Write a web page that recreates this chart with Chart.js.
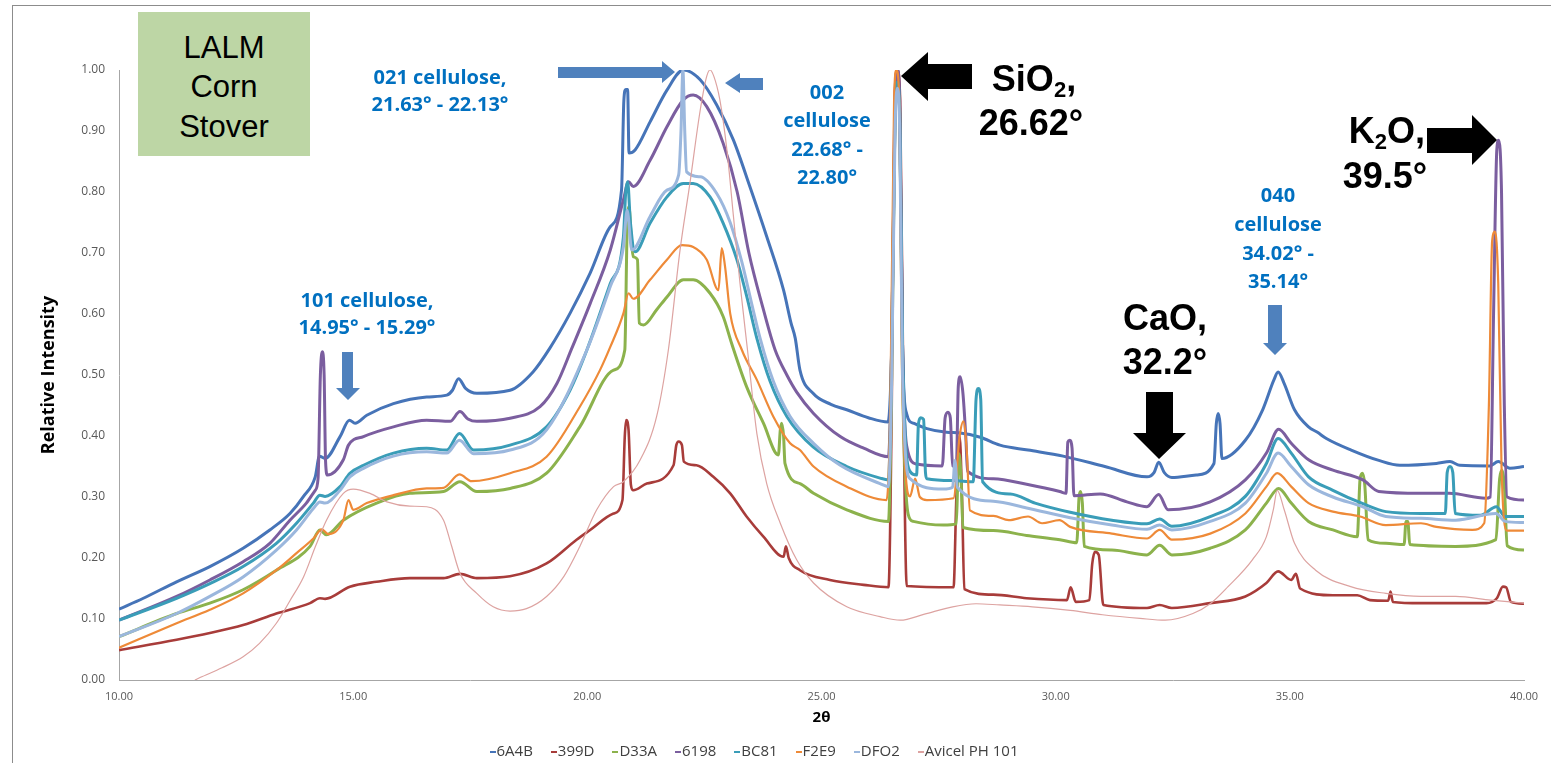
<!DOCTYPE html>
<html>
<head>
<meta charset="utf-8">
<script src="https://cdn.jsdelivr.net/npm/chart.js@4.4.1/dist/chart.umd.min.js"></script>
<style>
html,body{margin:0;padding:0;background:#fff;width:1551px;height:763px;overflow:hidden;}
#wrap{position:relative;width:1551px;height:763px;}
#c{position:absolute;left:0;top:0;}
#frame{position:absolute;left:12px;top:5px;width:1600px;height:800px;border-left:1px solid #8c8c8c;border-top:1px solid #8c8c8c;}
svg{position:absolute;left:0;top:0;}
.t{position:absolute;white-space:nowrap;transform:translate(-50%,-50%);}
.blue{color:#0070C0;font-family:"Open Sans",sans-serif;font-weight:700;font-size:20px;line-height:1;}
.blk{color:#000;font-family:"Liberation Sans",Arial,sans-serif;font-weight:700;font-size:36px;line-height:1;}
.blk sub{font-size:22px;vertical-align:-6px;line-height:0;}
.lalm{color:#000;font-family:"Liberation Sans",Arial,sans-serif;font-size:31px;line-height:1;}
#box{position:absolute;left:138px;top:12px;width:172px;height:144px;background:#BDD6A5;}
#legend{position:absolute;left:0;width:1508px;top:740px;text-align:center;font-family:"Open Sans",sans-serif;font-size:15px;color:#404040;white-space:nowrap;}
#legend span.item{margin:0 9px;}
#legend span.dash{display:inline-block;width:6px;height:2px;vertical-align:middle;margin-right:1px;}
</style>
</head>
<body>
<div id="wrap">
<div id="frame"></div>
<canvas id="c" width="1551" height="763"></canvas>
<svg width="1551" height="763" viewBox="0 0 1551 763">
  <polygon points="558,67 662,67 662,61 675,72 662,83 662,78 558,78" fill="#4F81BD"/>
  <polygon points="725,83 740,73 740,78 763,78 763,90 740,90 740,93" fill="#4F81BD"/>
  <polygon points="901,76 928,52 928,64 972,64 972,89 928,89 928,101" fill="#000"/>
  <polygon points="1427,128 1472,128 1472,115 1497,140 1472,165 1472,153 1427,153" fill="#000"/>
  <polygon points="1146,392 1173,392 1173,433 1186,433 1159,459 1133,433 1146,433" fill="#000"/>
  <polygon points="1268,305 1282,305 1282,343 1287,343 1275,355 1263,343 1268,343" fill="#4F81BD"/>
  <polygon points="342,352 353,352 353,388 360,388 348,400 336,388 342,388" fill="#4F81BD"/>
</svg>
<div id="box"></div>
<div class="t lalm" style="left:224px;top:47px;">LALM</div>
<div class="t lalm" style="left:224px;top:86px;">Corn</div>
<div class="t lalm" style="left:224px;top:126px;">Stover</div>

<div class="t blue" style="left:440px;top:77px;">021 cellulose,</div>
<div class="t blue" style="left:440px;top:104px;">21.63° - 22.13°</div>

<div class="t blue" style="left:827px;top:92px;">002</div>
<div class="t blue" style="left:827px;top:120px;">cellulose</div>
<div class="t blue" style="left:827px;top:149px;">22.68° -</div>
<div class="t blue" style="left:827px;top:177px;">22.80°</div>

<div class="t blue" style="left:1278px;top:195px;">040</div>
<div class="t blue" style="left:1278px;top:224px;">cellulose</div>
<div class="t blue" style="left:1278px;top:253px;">34.02° -</div>
<div class="t blue" style="left:1278px;top:281px;">35.14°</div>

<div class="t blue" style="left:367px;top:300px;">101 cellulose,</div>
<div class="t blue" style="left:367px;top:327px;">14.95° - 15.29°</div>

<div class="t blk" style="left:1034px;top:79px;">SiO<sub>2</sub>,</div>
<div class="t blk" style="left:1031px;top:123px;">26.62°</div>
<div class="t blk" style="left:1165px;top:318px;">CaO,</div>
<div class="t blk" style="left:1165px;top:362px;">32.2°</div>
<div class="t blk" style="left:1387px;top:131px;">K<sub>2</sub>O,</div>
<div class="t blk" style="left:1385px;top:176px;">39.5°</div>

<div id="legend"></div>
</div>
<script>
// ---------------- DATA ----------------
const SERIES = ['6A4B','399D','D33A','6198','BC81','F2E9','DFO2','Avicel PH 101'];
const COLORS = ['#4674B8','#A83C3A','#8CB24C','#7B5E9F','#3A9DB8','#EE8A38','#9BB7DD','#DDA3A1'];

const X_TICKS = [10,15,20,25,30,35,40];
const Y_TICKS = [0,0.1,0.2,0.3,0.4,0.5,0.6,0.7,0.8,0.9,1.0];

const d6A4B = [[10.0,0.116],[10.52,0.134],[11.23,0.161],[11.94,0.186],[12.65,0.216],[13.22,0.246],[13.65,0.273],[13.94,0.301],[14.19,0.333],[14.28,0.367],[14.40,0.363],[14.72,0.399],[14.92,0.426],[15.04,0.421],[15.29,0.434],[15.86,0.453],[16.57,0.464],[17.0,0.467],[17.12,0.475],[17.25,0.494],[17.40,0.478],[17.64,0.470],[18.35,0.475],[18.84,0.505],[19.2,0.544],[19.63,0.601],[20.06,0.667],[20.49,0.743],[20.73,0.803],[20.78,0.95],[20.82,0.968],[20.86,0.968],[20.89,0.864],[21.02,0.869],[21.34,0.915],[21.70,0.967],[22.05,1.0],[22.41,0.984],[22.76,0.943],[23.12,0.885],[23.47,0.809],[23.83,0.727],[24.19,0.639],[24.35,0.585],[24.44,0.56],[24.54,0.508],[24.82,0.47],[25.2,0.452],[25.54,0.443],[26.0,0.43],[26.42,0.423],[26.50,0.55],[26.57,0.93],[26.62,0.99],[26.67,0.93],[26.73,0.55],[26.82,0.436],[26.96,0.421],[27.25,0.412],[27.67,0.406],[27.96,0.405],[28.39,0.398],[28.81,0.385],[29.41,0.377],[30.16,0.367],[31.05,0.35],[31.95,0.333],[32.10,0.34],[32.2,0.357],[32.32,0.34],[32.48,0.332],[33.0,0.336],[33.38,0.355],[33.43,0.42],[33.47,0.437],[33.51,0.42],[33.55,0.363],[34.05,0.393],[34.42,0.443],[34.66,0.492],[34.75,0.505],[34.88,0.486],[35.1,0.443],[35.4,0.415],[35.59,0.406],[35.78,0.396],[36.31,0.377],[36.9,0.36],[37.35,0.352],[38.13,0.355],[38.42,0.358],[38.63,0.352],[39.27,0.351],[39.45,0.358],[39.7,0.347],[40.0,0.35]];

const d399D = [[10.0,0.049],[11.23,0.066],[11.94,0.077],[12.65,0.09],[13.36,0.109],[14.08,0.126],[14.29,0.134],[14.40,0.133],[14.93,0.153],[15.5,0.161],[16.21,0.167],[16.93,0.167],[17.28,0.174],[17.64,0.167],[18.35,0.17],[19.13,0.191],[19.77,0.23],[20.06,0.246],[20.56,0.273],[20.75,0.295],[20.80,0.40],[20.83,0.426],[20.88,0.41],[20.93,0.32],[20.98,0.311],[21.27,0.322],[21.84,0.352],[21.9,0.385],[21.95,0.391],[22.02,0.385],[22.06,0.358],[22.33,0.352],[22.69,0.333],[23.05,0.306],[23.4,0.268],[23.76,0.235],[24.19,0.202],[24.24,0.219],[24.3,0.2],[24.54,0.18],[25.18,0.164],[25.9,0.156],[26.43,0.152],[26.50,0.45],[26.56,0.95],[26.62,1.0],[26.68,0.95],[26.75,0.45],[26.82,0.154],[27.82,0.152],[27.88,0.30],[27.95,0.40],[28.0,0.30],[28.05,0.149],[28.67,0.14],[29.38,0.134],[30.24,0.131],[30.32,0.152],[30.43,0.128],[30.72,0.131],[30.78,0.19],[30.84,0.21],[30.92,0.205],[31.0,0.13],[31.02,0.123],[31.95,0.118],[32.22,0.123],[32.48,0.118],[33.3,0.126],[34.05,0.137],[34.5,0.159],[34.75,0.178],[35.03,0.164],[35.13,0.174],[35.22,0.15],[35.92,0.139],[36.44,0.139],[36.71,0.131],[37.1,0.13],[37.15,0.145],[37.2,0.128],[37.8,0.126],[38.54,0.126],[39.2,0.126],[39.42,0.134],[39.55,0.153],[39.62,0.152],[39.72,0.128],[40.0,0.125]];

const dD33A = [[10.0,0.071],[11.23,0.109],[11.94,0.126],[12.65,0.148],[13.36,0.18],[14.08,0.219],[14.29,0.246],[14.43,0.238],[14.79,0.262],[15.5,0.29],[16.21,0.306],[16.93,0.309],[17.28,0.325],[17.64,0.309],[18.35,0.314],[19.13,0.339],[19.84,0.415],[20.56,0.508],[20.8,0.541],[20.85,0.74],[20.89,0.776],[20.94,0.72],[20.98,0.694],[21.07,0.689],[21.11,0.585],[21.2,0.582],[21.48,0.607],[21.7,0.628],[22.05,0.656],[22.26,0.656],[22.62,0.634],[22.9,0.596],[23.08,0.552],[23.4,0.481],[23.76,0.421],[24.08,0.369],[24.12,0.41],[24.15,0.421],[24.19,0.40],[24.22,0.355],[24.54,0.322],[24.83,0.306],[25.54,0.279],[26.43,0.26],[26.50,0.5],[26.57,0.93],[26.62,0.98],[26.67,0.93],[26.73,0.5],[26.85,0.272],[26.96,0.26],[27.6,0.254],[27.88,0.256],[27.92,0.36],[27.94,0.371],[27.98,0.33],[28.02,0.25],[28.67,0.245],[29.38,0.237],[30.09,0.23],[30.45,0.225],[30.50,0.30],[30.53,0.309],[30.57,0.29],[30.61,0.219],[31.2,0.213],[31.95,0.205],[32.22,0.221],[32.48,0.205],[33.3,0.216],[34.05,0.246],[34.5,0.29],[34.76,0.314],[35.03,0.29],[35.4,0.26],[35.92,0.246],[36.44,0.235],[36.50,0.33],[36.55,0.339],[36.60,0.32],[36.67,0.23],[37.05,0.224],[37.44,0.222],[37.48,0.26],[37.52,0.26],[37.56,0.222],[38.54,0.219],[39.4,0.23],[39.48,0.33],[39.53,0.344],[39.58,0.32],[39.64,0.22],[40.0,0.213]];

const d6198 = [[10.0,0.098],[11.23,0.137],[11.94,0.164],[12.65,0.194],[13.22,0.224],[13.65,0.262],[14.0,0.29],[14.19,0.311],[14.25,0.33],[14.30,0.50],[14.34,0.538],[14.38,0.50],[14.41,0.36],[14.45,0.336],[14.79,0.361],[14.90,0.385],[15.22,0.399],[15.86,0.415],[16.57,0.426],[17.07,0.424],[17.28,0.44],[17.45,0.428],[17.64,0.424],[18.35,0.429],[18.99,0.448],[19.35,0.486],[19.67,0.544],[20.06,0.617],[20.49,0.705],[20.77,0.787],[20.88,0.817],[20.98,0.809],[21.34,0.852],[21.7,0.907],[22.05,0.951],[22.26,0.959],[22.55,0.94],[22.9,0.88],[23.2,0.80],[23.45,0.70],[23.75,0.61],[24.01,0.541],[24.26,0.500],[24.47,0.472],[24.83,0.437],[25.4,0.399],[25.9,0.38],[26.43,0.366],[26.50,0.55],[26.57,0.95],[26.62,1.0],[26.67,0.95],[26.73,0.55],[26.82,0.383],[27.03,0.354],[27.58,0.351],[27.64,0.43],[27.70,0.439],[27.75,0.43],[27.80,0.351],[27.88,0.35],[27.92,0.48],[27.96,0.497],[28.02,0.47],[28.08,0.40],[28.12,0.342],[28.67,0.33],[29.38,0.321],[30.09,0.309],[30.22,0.306],[30.26,0.39],[30.30,0.393],[30.35,0.38],[30.39,0.302],[30.95,0.305],[31.52,0.292],[31.95,0.284],[32.2,0.304],[32.4,0.279],[33.3,0.292],[34.05,0.328],[34.5,0.372],[34.76,0.411],[35.03,0.388],[35.4,0.361],[35.92,0.344],[36.56,0.328],[36.9,0.309],[37.8,0.306],[38.4,0.306],[39.18,0.298],[39.28,0.30],[39.35,0.60],[39.42,0.87],[39.46,0.885],[39.52,0.80],[39.58,0.45],[39.64,0.30],[40.0,0.295]];

const dBC81 = [[10.0,0.098],[11.23,0.134],[11.94,0.158],[12.65,0.186],[13.36,0.224],[13.79,0.257],[14.15,0.29],[14.29,0.303],[14.40,0.301],[14.72,0.317],[14.93,0.339],[15.22,0.352],[15.86,0.372],[16.57,0.38],[17.0,0.377],[17.27,0.404],[17.57,0.377],[18.35,0.385],[19.13,0.415],[19.63,0.475],[19.99,0.541],[20.49,0.65],[20.77,0.726],[20.82,0.80],[20.86,0.817],[20.92,0.75],[21.02,0.702],[21.34,0.749],[21.7,0.792],[22.05,0.814],[22.26,0.814],[22.62,0.792],[22.9,0.749],[23.19,0.690],[23.4,0.630],[23.62,0.560],[23.9,0.490],[24.26,0.432],[24.82,0.382],[25.54,0.35],[26.25,0.331],[26.43,0.328],[26.50,0.55],[26.57,0.93],[26.62,0.98],[26.67,0.93],[26.73,0.55],[26.89,0.342],[27.03,0.336],[27.07,0.42],[27.12,0.43],[27.18,0.427],[27.22,0.34],[27.25,0.33],[27.82,0.327],[28.24,0.325],[28.30,0.46],[28.35,0.478],[28.40,0.46],[28.44,0.325],[29.03,0.305],[29.56,0.29],[30.31,0.275],[31.2,0.262],[31.95,0.256],[32.22,0.264],[32.48,0.252],[33.3,0.268],[34.05,0.301],[34.5,0.355],[34.75,0.396],[35.03,0.372],[35.4,0.333],[35.92,0.311],[36.56,0.289],[37.05,0.276],[37.8,0.273],[38.32,0.273],[38.36,0.34],[38.42,0.35],[38.48,0.34],[38.53,0.273],[39.07,0.27],[39.41,0.284],[39.6,0.268],[40.0,0.268]];

const dF2E9 = [[10.0,0.053],[11.23,0.093],[11.94,0.115],[12.65,0.142],[13.36,0.18],[13.79,0.208],[14.15,0.232],[14.33,0.247],[14.47,0.239],[14.79,0.262],[14.90,0.295],[15.0,0.279],[15.29,0.29],[15.86,0.303],[16.57,0.314],[16.93,0.315],[17.27,0.337],[17.53,0.326],[18.35,0.339],[19.13,0.366],[19.84,0.448],[20.27,0.508],[20.49,0.546],[20.77,0.601],[20.88,0.634],[20.98,0.625],[21.34,0.656],[21.7,0.689],[22.02,0.713],[22.26,0.71],[22.55,0.689],[22.8,0.639],[22.87,0.708],[22.94,0.678],[23.05,0.601],[23.3,0.541],[23.62,0.492],[23.97,0.432],[24.33,0.388],[24.54,0.377],[24.83,0.35],[25.54,0.317],[26.39,0.295],[26.47,0.45],[26.55,0.95],[26.60,1.0],[26.66,0.95],[26.72,0.5],[26.89,0.301],[27.0,0.33],[27.1,0.3],[27.25,0.295],[27.82,0.298],[27.95,0.40],[28.03,0.424],[28.1,0.377],[28.17,0.278],[28.67,0.269],[29.0,0.262],[29.41,0.268],[29.71,0.257],[30.08,0.262],[30.31,0.251],[31.2,0.24],[31.95,0.232],[32.22,0.246],[32.48,0.23],[33.3,0.24],[34.05,0.273],[34.5,0.317],[34.73,0.339],[35.03,0.317],[35.4,0.29],[35.92,0.276],[36.5,0.268],[37.05,0.254],[37.8,0.257],[38.13,0.251],[38.9,0.246],[39.15,0.257],[39.25,0.45],[39.32,0.72],[39.38,0.735],[39.45,0.65],[39.52,0.35],[39.63,0.245],[40.0,0.245]];

const dDFO2 = [[10.0,0.071],[11.23,0.109],[11.94,0.137],[12.65,0.169],[13.36,0.213],[13.79,0.246],[14.15,0.281],[14.29,0.292],[14.40,0.29],[14.72,0.311],[14.93,0.333],[15.22,0.347],[15.86,0.367],[16.57,0.374],[17.0,0.372],[17.27,0.393],[17.57,0.371],[18.35,0.377],[19.13,0.41],[19.99,0.541],[20.49,0.645],[20.77,0.71],[20.85,0.77],[20.95,0.705],[21.34,0.76],[21.7,0.803],[21.95,0.828],[22.0,0.9],[22.04,1.0],[22.08,0.9],[22.12,0.833],[22.41,0.825],[22.76,0.798],[23.05,0.75],[23.3,0.685],[23.5,0.620],[23.69,0.560],[23.97,0.490],[24.33,0.432],[24.83,0.388],[25.4,0.352],[26.25,0.322],[26.43,0.317],[26.50,0.5],[26.57,0.9],[26.62,0.97],[26.67,0.9],[26.73,0.5],[26.89,0.33],[27.6,0.313],[27.80,0.316],[27.85,0.36],[27.90,0.316],[28.67,0.293],[29.38,0.282],[30.31,0.266],[31.2,0.254],[31.95,0.247],[32.22,0.254],[32.48,0.246],[33.3,0.26],[34.05,0.29],[34.5,0.339],[34.75,0.372],[35.03,0.35],[35.4,0.32],[35.92,0.30],[36.56,0.284],[37.05,0.268],[37.8,0.265],[38.54,0.262],[39.4,0.273],[39.6,0.26],[40.0,0.258]];

const dAvicel = [[11.62,0.0],[11.73,0.004],[12.2,0.02],[12.65,0.038],[13.0,0.06],[13.36,0.093],[13.65,0.13],[13.94,0.169],[14.2,0.22],[14.43,0.262],[14.79,0.306],[15.0,0.313],[15.36,0.306],[15.72,0.292],[16.21,0.285],[16.57,0.284],[16.93,0.262],[17.1,0.22],[17.28,0.175],[17.64,0.142],[17.99,0.12],[18.35,0.113],[18.7,0.117],[19.13,0.137],[19.5,0.17],[19.84,0.219],[20.2,0.279],[20.56,0.317],[20.77,0.325],[21.13,0.361],[21.48,0.432],[21.73,0.541],[21.98,0.705],[22.19,0.814],[22.41,0.934],[22.55,0.99],[22.62,1.0],[22.7,0.99],[22.83,0.951],[22.98,0.869],[23.12,0.76],[23.26,0.65],[23.42,0.541],[23.62,0.404],[23.83,0.322],[24.12,0.257],[24.47,0.197],[24.83,0.159],[25.54,0.12],[26.25,0.104],[26.68,0.098],[27.2,0.108],[27.8,0.12],[28.3,0.125],[28.81,0.123],[29.5,0.12],[30.31,0.114],[31.0,0.107],[31.8,0.101],[32.34,0.098],[32.93,0.109],[33.3,0.125],[33.68,0.153],[34.2,0.197],[34.5,0.235],[34.65,0.28],[34.73,0.311],[34.88,0.279],[35.1,0.224],[35.55,0.18],[36.3,0.153],[37.05,0.142],[37.8,0.137],[38.54,0.137],[39.29,0.131],[40.0,0.126]];

const DATA = [d6A4B, d399D, dD33A, d6198, dBC81, dF2E9, dDFO2, dAvicel];
const WIDTHS = [3,2.6,3,3,3,2.2,3,1.2];

// ---------------- CHART ----------------
const datasets = SERIES.map((name, i) => ({
  label: name,
  data: DATA[i].map(p => ({x: p[0], y: p[1]})),
  borderColor: COLORS[i],
  backgroundColor: COLORS[i],
  borderWidth: WIDTHS[i],
  pointRadius: 0,
  fill: false,
  cubicInterpolationMode: 'monotone',
  order: SERIES.length - i
}));

new Chart(document.getElementById('c').getContext('2d'), {
  type: 'line',
  data: {datasets},
  options: {
    responsive: false,
    animation: false,
    devicePixelRatio: 1,
    layout: {padding: {left: 12, top: 70, right: 27, bottom: 30}},
    plugins: {legend: {display: false}, tooltip: {enabled: false}},
    scales: {
      x: {
        type: 'linear', min: X_TICKS[0], max: X_TICKS[X_TICKS.length - 1],
        afterBuildTicks: s => { s.ticks = X_TICKS.map(v => ({value: v})); },
        ticks: {callback: v => Number(v).toFixed(2), font: {family: 'Open Sans', size: 11}, color: '#595959', padding: 10, maxRotation: 0, autoSkip: false},
        grid: {display: false, drawTicks: false},
        border: {display: true, color: '#A6A6A6', width: 1},
        title: {display: true, text: '2θ', font: {family: 'Open Sans', size: 15, weight: 'bold'}, color: '#000', padding: {top: 0, bottom: 6}},
        afterFit: s => { s.height = 53; }
      },
      y: {
        type: 'linear', min: 0, max: 1,
        afterBuildTicks: s => { s.ticks = Y_TICKS.map(v => ({value: v})); },
        ticks: {callback: v => Number(v).toFixed(2), font: {family: 'Open Sans', size: 12}, color: '#595959', padding: 14, autoSkip: false},
        grid: {display: false, drawTicks: false},
        border: {display: true, color: '#A6A6A6', width: 1},
        title: {display: true, text: 'Relative Intensity', font: {family: 'Open Sans', size: 18, weight: 'bold'}, color: '#000', padding: {top: 26, bottom: 0}},
        afterFit: s => { s.width = 107; }
      }
    }
  }
});

// ---------------- LEGEND ----------------
const lg = document.getElementById('legend');
SERIES.forEach((name, i) => {
  const it = document.createElement('span');
  it.className = 'item';
  const d = document.createElement('span');
  d.className = 'dash';
  d.style.background = COLORS[i];
  it.appendChild(d);
  it.appendChild(document.createTextNode(name));
  lg.appendChild(it);
});
</script>
</body>
</html>
